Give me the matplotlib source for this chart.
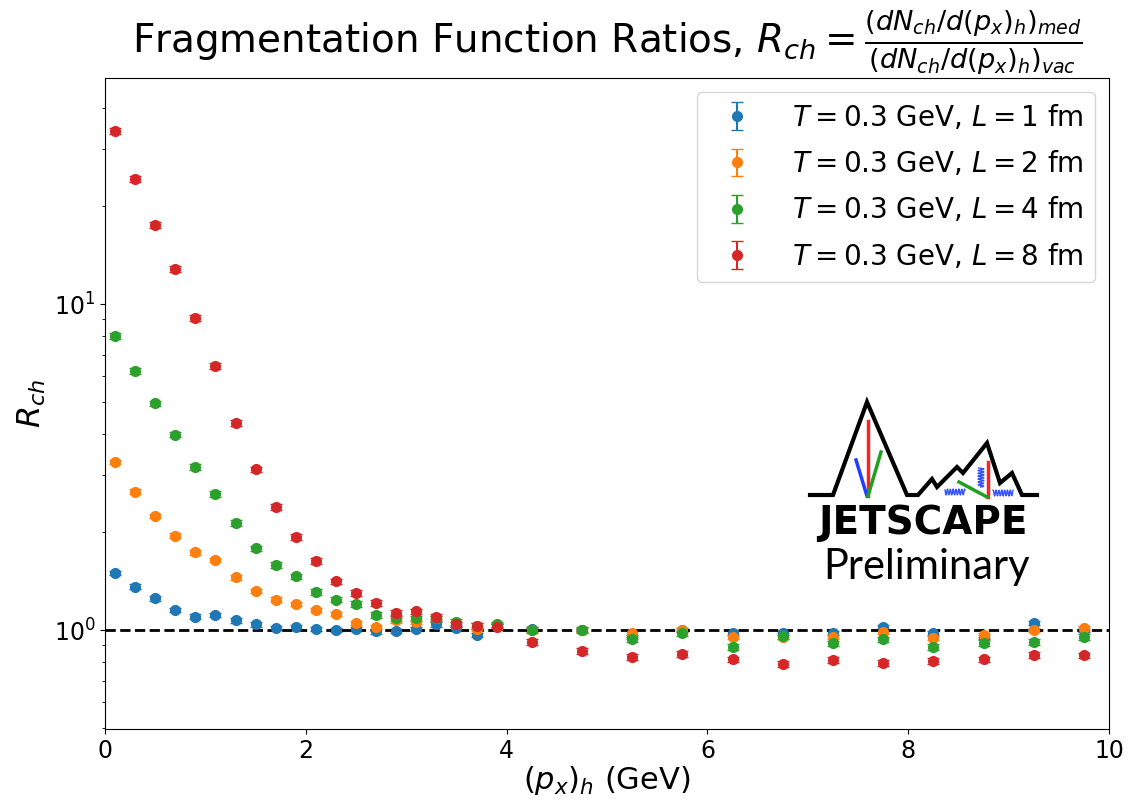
import numpy as np
import matplotlib.pyplot as plt

# hadron (p_x)_h bin centres
px = [0.1, 0.3, 0.5, 0.7, 0.9, 1.1, 1.3, 1.5, 1.7, 1.9,
      2.1, 2.3, 2.5, 2.7, 2.9, 3.1, 3.3, 3.5, 3.7, 3.9,
      4.25, 4.75, 5.25, 5.75, 6.25, 6.75, 7.25, 7.75, 8.25, 8.75,
      9.25, 9.75]

# R_ch
r_L1 = [1.50, 1.36, 1.25, 1.15, 1.10, 1.11, 1.07, 1.04, 1.016, 1.02,
        1.01, 1.00, 1.007, 0.99, 0.995, 1.005, 1.04, 1.012, 0.965, 1.03,
        1.01, 1.00, 0.95, 1.00, 0.98, 0.98, 0.977, 1.02, 0.977, 0.95,
        1.053, 1.00]
r_L2 = [3.28, 2.66, 2.24, 1.95, 1.73, 1.64, 1.45, 1.32, 1.24, 1.20,
        1.15, 1.12, 1.05, 1.02, 1.07, 1.06, 1.085, 1.04, 1.005, 1.036,
        1.00, 1.00, 0.98, 1.00, 0.95, 0.95, 0.95, 0.988, 0.943, 0.965,
        1.00, 1.016]
r_L4 = [7.98, 6.23, 4.96, 3.98, 3.16, 2.61, 2.13, 1.78, 1.58, 1.46,
        1.31, 1.24, 1.20, 1.11, 1.09, 1.085, 1.085, 1.06, 1.03, 1.04,
        1.00, 1.00, 0.936, 0.977, 0.889, 0.958, 0.910, 0.936, 0.889, 0.914,
        0.918, 0.950]
r_L8 = [34.0, 24.2, 17.5, 12.8, 9.06, 6.45, 4.32, 3.11, 2.38, 1.93,
        1.63, 1.41, 1.30, 1.21, 1.13, 1.14, 1.10, 1.04, 1.03, 1.02,
        0.918, 0.864, 0.828, 0.844, 0.813, 0.786, 0.809, 0.794, 0.803, 0.813,
        0.840, 0.836]

series = [r_L1, r_L2, r_L4, r_L8]
lengths = [1, 2, 4, 8]
rel_err = [0.015, 0.015, 0.02, 0.02]

fig = plt.figure(figsize=(11.28, 8), dpi=100)
ax = fig.add_axes([0.0931, 0.08875, 0.8901, 0.81375])

for vals, L, e in zip(series, lengths, rel_err):
	vals = np.array(vals)
	ax.errorbar(px, vals, yerr=e * vals, fmt='o', ms=7, capsize=4,
				label=r'$T = 0.3$ GeV, $L = %d$ fm' % L)

ax.axhline(1.0, color='k', ls='--', lw=2)

ax.set_yscale('log')
ax.set_xlim(0, 10)
ax.set_ylim(0.497, 49.4)
ax.tick_params(labelsize=17)
ax.set_xlabel(r'$(p_x)_h$ (GeV)', fontsize=22, labelpad=1)
ax.set_ylabel(r'$R_{ch}$', fontsize=23)
ax.set_title(r'Fragmentation Function Ratios, $R_{ch} = \frac{(dN_{ch}/d(p_x)_h)_{med}}{(dN_{ch}/d(p_x)_h)_{vac}}$',
			 fontsize=28, pad=6)
ax.legend(loc='upper right', fontsize=20, handlelength=2.15, handletextpad=0.9,
		  labelspacing=0.62)

# JETSCAPE logo (rough sketch)
lg = fig.add_axes([805 / 1128, 1 - 500 / 800, 235 / 1128, 105 / 800])
lg.set_xlim(805, 1040)
lg.set_ylim(500, 395)
lg.axis('off')
ox = [810, 833, 867, 907, 918, 932, 937, 957, 963, 987, 1000, 1012, 1022, 1037]
oy = [495, 495, 402, 495, 495, 479, 487, 467, 473, 443, 483, 473, 495, 495]
lg.plot(ox, oy, color='k', lw=3, solid_joinstyle='miter')
lg.plot([868, 868], [421, 496], color='#ff2020', lw=2.5)
lg.plot([856, 867], [460, 496], color='#2040ff', lw=2.5)
lg.plot([881, 868], [452, 496], color='#20a020', lw=2.5)
lg.plot([988, 988], [462, 497], color='#ff2020', lw=2.5)
lg.plot([959, 987], [482, 497], color='#20a020', lw=2.5)
sx = np.linspace(945, 965, 40)
lg.plot(sx, 492 + 3 * np.sin(sx * 2.2), color='#3050ff', lw=1)
sx = np.linspace(993, 1013, 40)
lg.plot(sx, 493 + 3 * np.sin(sx * 2.2), color='#3050ff', lw=1)
sy = np.linspace(468, 487, 40)
lg.plot(981 + 3 * np.sin(sy * 2.2), sy, color='#3050ff', lw=1)

fig.text(923 / 1128, 1 - 523 / 800, 'JETSCAPE', ha='center', va='center',
		 fontsize=28, fontweight='black', family='DejaVu Sans')
fig.text(927 / 1128, 1 - 567 / 800, 'Preliminary', ha='center', va='center',
		 fontsize=30, family='Lato')

plt.savefig('out.png', dpi=100)
plt.close()
